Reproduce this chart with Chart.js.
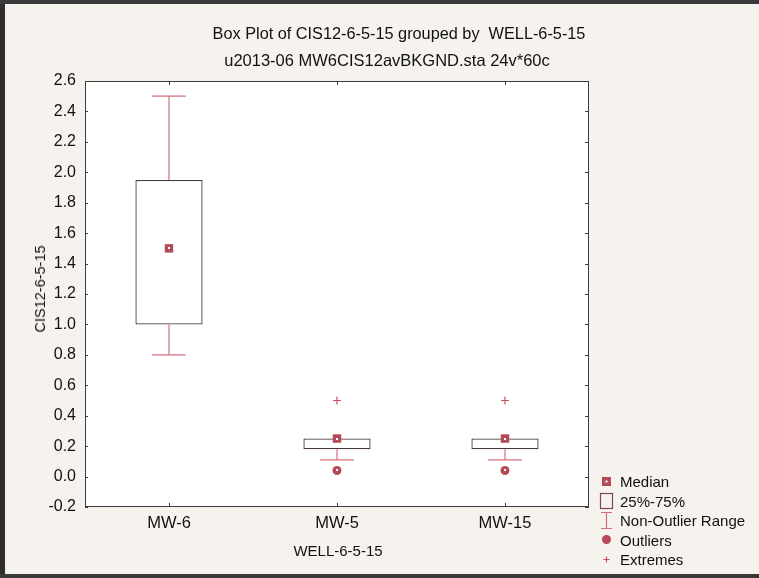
<!DOCTYPE html>
<html>
<head>
<meta charset="utf-8">
<script src="https://cdn.jsdelivr.net/npm/chart.js@4.4.1/dist/chart.umd.min.js"></script>
<style>
  html, body { margin: 0; padding: 0; background: #f6f3ee; }
  #wrap { position: relative; width: 759px; height: 578px; overflow: hidden; background: #f6f3ee;
          font-family: "Liberation Sans", Arial, sans-serif; color: #111; }
  #frameL { position: absolute; left: 0; top: 0; width: 5px; height: 578px; background: #2e2e2e; }
  #frameT { position: absolute; left: 0; top: 0; width: 759px; height: 4px; background: #3a3a3a; }
  #frameB { position: absolute; left: 0; top: 574px; width: 759px; height: 4px; background: #3a3a3a; }
  canvas { position: absolute; left: 0; top: 0; }
  .t { position: absolute; white-space: nowrap; font-size: 15px; }
  #legend { position: absolute; left: 598px; top: 472px; font-size: 15px; line-height: 19.5px; }
  #legend div { display: flex; align-items: center; height: 19.5px; }
  #legend svg { width: 18px; height: 19px; margin-right: 4px; flex: none; }
</style>
</head>
<body>
<div id="wrap">
  <canvas id="c" width="759" height="578"></canvas>
  <div id="frameL"></div><div id="frameT"></div><div id="frameB"></div>
  <div class="t" id="title1" style="left:399px; top:33px; font-size:16.3px; transform: translate(-50%,-50%);">Box Plot of CIS12-6-5-15 grouped by&nbsp; WELL-6-5-15</div>
  <div class="t" id="title2" style="left:387px; top:60px; font-size:16.5px; transform: translate(-50%,-50%);">u2013-06 MW6CIS12avBKGND.sta 24v*60c</div>
  <div class="t" id="ytitle" style="left:40px; top:289px; font-size:14.5px; transform: translate(-50%,-50%) rotate(-90deg);">CIS12-6-5-15</div>
  <div class="t" id="xtitle" style="left:338px; top:550px; transform: translate(-50%,-50%);">WELL-6-5-15</div>
  <div id="legend">
    <div><svg viewBox="0 0 18 19"><rect x="4" y="5" width="9" height="9" fill="#b34c58"/><rect x="7.5" y="8.5" width="2" height="2" fill="#fff"/></svg>Median</div>
    <div><svg viewBox="0 0 18 19"><rect x="2.5" y="1.5" width="12" height="15" fill="none" stroke="#7a4a50" stroke-width="1.2"/></svg>25%-75%</div>
    <div><svg viewBox="0 0 18 19"><path d="M3 1.5H14M8.5 1.5V17.5M3 17.5H14" stroke="#d0707c" stroke-width="1.2" fill="none"/></svg>Non-Outlier Range</div>
    <div><svg viewBox="0 0 18 19"><circle cx="8.5" cy="8.5" r="4.5" fill="#b84a57"/></svg>Outliers</div>
    <div><svg viewBox="0 0 18 19"><path d="M5.5 9.5H11.5M8.5 6.5V12.5" stroke="#c85460" stroke-width="1.2"/></svg>Extremes</div>
  </div>
</div>
<script>
// Wells along the x axis
const wells = ['MW-6', 'MW-5', 'MW-15'];
// Box statistics for CIS12-6-5-15 per well
const q1 = [1.0, 0.18, 0.18];
const q3 = [1.95, 0.25, 0.25];
const medians = [1.5, 0.25, 0.25];
const whiskerLow = [0.8, 0.11, 0.11];
const whiskerHigh = [2.5, 0.25, 0.25];
const outliers = [null, 0.04, 0.04];
const extremes = [null, 0.5, 0.5];
// Value axis range and tick step
const yMin = -0.2, yMax = 2.6, yStep = 0.2;

const MEDIAN_COLOR = '#b34c58';
const WHISKER_COLOR = '#d0707c';
const OUTLIER_COLOR = '#b84a57';
const EXTREME_COLOR = '#c85460';
const BOX_EDGE = '#4a3a3e';
const FONT = '"Liberation Sans", Arial, sans-serif';

// Plot background, frame, inward ticks and whiskers
const boxPlotPlugin = {
  id: 'boxPlotDecor',
  beforeDraw(chart) {
    const { ctx, chartArea: a } = chart;
    ctx.save();
    ctx.fillStyle = '#ffffff';
    ctx.fillRect(a.left, a.top, a.right - a.left, a.bottom - a.top);
    ctx.restore();
  },
  beforeDatasetsDraw(chart) {
    const { ctx, scales: { x, y } } = chart;
    const meta = chart.getDatasetMeta(0);
    ctx.save();
    ctx.strokeStyle = WHISKER_COLOR;
    ctx.lineWidth = 1.2;
    wells.forEach((w, i) => {
      const cx = x.getPixelForValue(i);
      const bar = meta.data[i];
      const half = bar ? bar.width / 2 : 30;
      const cap = half * 0.5;
      const lo = y.getPixelForValue(whiskerLow[i]);
      const hi = y.getPixelForValue(whiskerHigh[i]);
      const b1 = y.getPixelForValue(q1[i]);
      const b3 = y.getPixelForValue(q3[i]);
      ctx.beginPath();
      if (whiskerLow[i] < q1[i]) {
        ctx.moveTo(cx, b1); ctx.lineTo(cx, lo);
        ctx.moveTo(cx - cap, lo); ctx.lineTo(cx + cap, lo);
      }
      if (whiskerHigh[i] > q3[i]) {
        ctx.moveTo(cx, b3); ctx.lineTo(cx, hi);
        ctx.moveTo(cx - cap, hi); ctx.lineTo(cx + cap, hi);
      }
      ctx.stroke();
    });
    ctx.restore();
  },
  afterDatasetsDraw(chart) {
    const { ctx, chartArea: a, scales: { x, y } } = chart;
    ctx.save();
    // white centre dots in median squares and outlier circles
    ctx.fillStyle = '#ffffff';
    [1, 2].forEach(ds => {
      chart.getDatasetMeta(ds).data.forEach((p, i) => {
        const v = chart.data.datasets[ds].data[i];
        if (v === null || p.skip) return;
        ctx.fillRect(Math.round(p.x) - 1, Math.round(p.y) - 1, 2, 2);
      });
    });
    // frame
    ctx.strokeStyle = '#3c3c3c';
    ctx.lineWidth = 1;
    ctx.strokeRect(a.left + 0.5, a.top + 0.5, a.right - a.left - 1, a.bottom - a.top - 1);
    // inward ticks
    ctx.beginPath();
    y.ticks.forEach(t => {
      const py = Math.round(y.getPixelForValue(t.value)) + 0.5;
      ctx.moveTo(a.left, py); ctx.lineTo(a.left + 3, py);
      ctx.moveTo(a.right, py); ctx.lineTo(a.right - 4, py);
    });
    wells.forEach((w, i) => {
      const px = Math.round(x.getPixelForValue(i)) + 0.5;
      ctx.moveTo(px, a.bottom); ctx.lineTo(px, a.bottom - 4);
      ctx.moveTo(px, a.top); ctx.lineTo(px, a.top + 4);
    });
    ctx.stroke();
    ctx.restore();
  }
};

new Chart(document.getElementById('c'), {
  data: {
    labels: wells,
    datasets: [
      {
        type: 'bar',
        label: '25%-75%',
        data: wells.map((w, i) => [q1[i], q3[i]]),
        backgroundColor: '#ffffff',
        borderColor: BOX_EDGE,
        borderWidth: 1.3,
        borderSkipped: false,
        categoryPercentage: 1,
        barPercentage: 0.4,
        order: 3
      },
      {
        type: 'line',
        label: 'Median',
        data: medians,
        showLine: false,
        pointStyle: 'rect',
        pointRadius: 6,
        pointBackgroundColor: MEDIAN_COLOR,
        pointBorderColor: MEDIAN_COLOR,
        pointBorderWidth: 0,
        order: 1
      },
      {
        type: 'line',
        label: 'Outliers',
        data: outliers,
        showLine: false,
        pointStyle: 'circle',
        pointRadius: 4.5,
        pointBackgroundColor: OUTLIER_COLOR,
        pointBorderColor: OUTLIER_COLOR,
        pointBorderWidth: 0,
        order: 1
      },
      {
        type: 'line',
        label: 'Extremes',
        data: extremes,
        showLine: false,
        pointStyle: 'cross',
        pointRadius: 4,
        pointBorderColor: EXTREME_COLOR,
        pointBorderWidth: 1.2,
        order: 1
      }
    ]
  },
  options: {
    responsive: false,
    devicePixelRatio: 1,
    animation: false,
    layout: { padding: { left: 0, top: 81, right: 170, bottom: 31 } },
    plugins: { legend: { display: false }, tooltip: { enabled: false }, title: { display: false } },
    scales: {
      x: {
        type: 'category',
        grid: { display: false, drawTicks: false },
        border: { display: false },
        ticks: { color: '#111', font: { family: FONT, size: 16.5 }, padding: 7 },
        afterFit(s) { s.height = 40; }
      },
      y: {
        min: yMin, max: yMax,
        grid: { display: false, drawTicks: false },
        border: { display: false },
        ticks: {
          stepSize: yStep,
          color: '#111',
          font: { family: FONT, size: 16 },
          padding: 9,
          callback: v => v.toFixed(1)
        },
        afterFit(s) { s.width = 85; }
      }
    }
  },
  plugins: [boxPlotPlugin]
});
</script>
</body>
</html>
